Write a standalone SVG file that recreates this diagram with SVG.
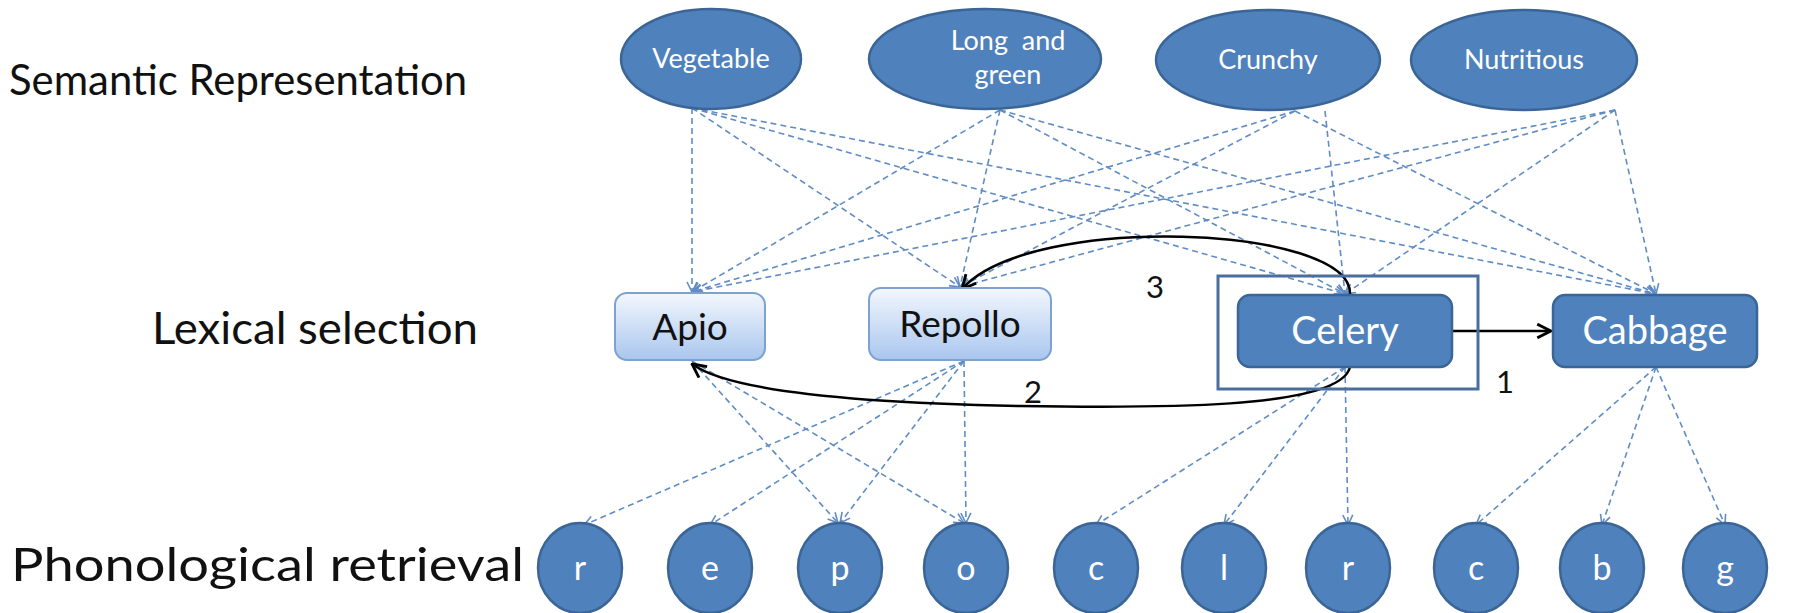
<svg xmlns="http://www.w3.org/2000/svg" width="1794" height="613" viewBox="0 0 1794 613">
  <style>
    .label { font-family: Lato, "Liberation Sans", sans-serif; fill: #111; }
    .feat { fill: #4f81bd; stroke: #3a6596; stroke-width: 2.5; }
    .feat-text { font-family: Lato, "Liberation Sans", sans-serif; font-size: 27px; fill: #fff; text-anchor: middle; }
    .lex-light { fill: url(#lightGrad); stroke: #7ea2cf; stroke-width: 2; }
    .lex-dark { fill: #4f81bd; stroke: #3a6596; stroke-width: 2.5; }
    .lex-text-dark { font-family: Lato, "Liberation Sans", sans-serif; font-size: 37px; fill: #111; text-anchor: middle; }
    .lex-text-light { font-family: Lato, "Liberation Sans", sans-serif; font-size: 38px; fill: #fff; text-anchor: middle; }
    .phon { fill: #4f81bd; stroke: #3a6596; stroke-width: 2.5; }
    .phon-text { font-family: Lato, "Liberation Sans", sans-serif; font-size: 34px; fill: #fff; text-anchor: middle; }
    .dash { fill: none; stroke: #5f8cc5; stroke-width: 1.6; stroke-dasharray: 6 4; marker-end: url(#openBlue); }
    .solid { fill: none; stroke: #000; stroke-width: 2.5; marker-end: url(#openBlack); }
    .num { font-family: Lato, "Liberation Sans", sans-serif; font-size: 31px; fill: #111; }
  </style>
  <defs>
    <linearGradient id="lightGrad" x1="0" y1="0" x2="0" y2="1">
      <stop offset="0" stop-color="#f3f7fd"/>
      <stop offset="1" stop-color="#a9c6ee"/>
    </linearGradient>
    <marker id="openBlue" viewBox="0 0 12 12" refX="11" refY="6" markerWidth="12" markerHeight="12" markerUnits="userSpaceOnUse" orient="auto">
      <path d="M1,1 L11,6 L1,11" fill="none" stroke="#5f8cc5" stroke-width="1.6"/>
    </marker>
    <marker id="openBlack" viewBox="0 0 14 14" refX="13" refY="7" markerWidth="16" markerHeight="16" markerUnits="userSpaceOnUse" orient="auto">
      <path d="M1,1 L13,7 L1,13" fill="none" stroke="#000" stroke-width="2.5"/>
    </marker>
  </defs>

  <rect width="1794" height="613" fill="#fff"/>

  <!-- row labels -->
  <text class="label" x="9" y="95" font-size="42" textLength="458" lengthAdjust="spacingAndGlyphs">Semantic Representation</text>
  <text class="label" x="152" y="344" font-size="44" textLength="326" lengthAdjust="spacingAndGlyphs">Lexical selection</text>
  <text class="label" x="11" y="581" font-size="46" textLength="513" lengthAdjust="spacingAndGlyphs">Phonological retrieval</text>

  <!-- connectors -->
  <g id="connectors">
    <!-- semantic features to lexical entries -->
    <line class="dash" x1="692" y1="108" x2="692" y2="292"/>
    <line class="dash" x1="692" y1="108" x2="960" y2="287"/>
    <line class="dash" x1="692" y1="108" x2="1345" y2="294"/>
    <line class="dash" x1="692" y1="108" x2="1656" y2="294"/>
    <line class="dash" x1="1000" y1="110" x2="692" y2="292"/>
    <line class="dash" x1="1000" y1="110" x2="960" y2="287"/>
    <line class="dash" x1="1000" y1="110" x2="1345" y2="294"/>
    <line class="dash" x1="1000" y1="110" x2="1656" y2="294"/>
    <line class="dash" x1="1295" y1="111" x2="692" y2="292"/>
    <line class="dash" x1="1295" y1="111" x2="960" y2="287"/>
    <line class="dash" x1="1325" y1="111" x2="1345" y2="294"/>
    <line class="dash" x1="1295" y1="111" x2="1656" y2="294"/>
    <line class="dash" x1="1615" y1="110" x2="692" y2="292"/>
    <line class="dash" x1="1615" y1="110" x2="960" y2="287"/>
    <line class="dash" x1="1615" y1="110" x2="1345" y2="294"/>
    <line class="dash" x1="1615" y1="110" x2="1656" y2="294"/>
    <!-- lexical entries to phonemes -->
    <line class="dash" x1="692" y1="361" x2="838" y2="523"/>
    <line class="dash" x1="692" y1="361" x2="964" y2="523"/>
    <line class="dash" x1="964" y1="361" x2="584" y2="525"/>
    <line class="dash" x1="964" y1="361" x2="710" y2="525"/>
    <line class="dash" x1="964" y1="361" x2="840" y2="523"/>
    <line class="dash" x1="964" y1="361" x2="966" y2="523"/>
    <line class="dash" x1="1345" y1="367" x2="1096" y2="525"/>
    <line class="dash" x1="1345" y1="367" x2="1224" y2="525"/>
    <line class="dash" x1="1345" y1="367" x2="1348" y2="525"/>
    <line class="dash" x1="1656" y1="367" x2="1476" y2="525"/>
    <line class="dash" x1="1656" y1="367" x2="1602" y2="525"/>
    <line class="dash" x1="1656" y1="367" x2="1725" y2="525"/>
    <!-- selection and competition arrows -->
    <line class="solid" x1="1452" y1="331" x2="1551" y2="331"/>
    <path class="solid" d="M1350,294 C1352,225 1030,212 962,289"/>
    <path class="solid" d="M1350,367 C1340,410 1150,408 1020,406 C860,403 730,392 692,364"/>
  </g>

  <!-- semantic feature nodes -->
  <g id="vegetable">
    <ellipse class="feat" cx="711" cy="59" rx="90" ry="50"/>
    <text class="feat-text" x="711" y="68">Vegetable</text>
  </g>
  <g id="long-and-green">
    <ellipse class="feat" cx="985" cy="59" rx="116" ry="50"/>
    <text class="feat-text" x="1008" y="50" xml:space="preserve">Long  and</text>
    <text class="feat-text" x="1008" y="84">green</text>
  </g>
  <g id="crunchy">
    <ellipse class="feat" cx="1268" cy="60" rx="112" ry="50"/>
    <text class="feat-text" x="1268" y="69">Crunchy</text>
  </g>
  <g id="nutritious">
    <ellipse class="feat" cx="1524" cy="60" rx="113" ry="50"/>
    <text class="feat-text" x="1524" y="69">Nutritious</text>
  </g>

  <!-- lexical nodes -->
  <g id="apio">
    <rect class="lex-light" x="615" y="293" width="150" height="67" rx="12"/>
    <text class="lex-text-dark" x="690" y="340">Apio</text>
  </g>
  <g id="repollo">
    <rect class="lex-light" x="869" y="288" width="182" height="72" rx="12"/>
    <text class="lex-text-dark" x="960" y="337">Repollo</text>
  </g>
  <g id="celery">
    <rect x="1218" y="276" width="260" height="113" fill="none" stroke="#4a6f9e" stroke-width="3"/>
    <rect class="lex-dark" x="1238" y="295" width="214" height="72" rx="12"/>
    <text class="lex-text-light" x="1345" y="344">Celery</text>
  </g>
  <g id="cabbage">
    <rect class="lex-dark" x="1553" y="295" width="204" height="72" rx="12"/>
    <text class="lex-text-light" x="1655" y="344">Cabbage</text>
  </g>

  <!-- step numbers -->
  <text class="num" x="1496" y="393">1</text>
  <text class="num" x="1024" y="403">2</text>
  <text class="num" x="1146" y="298">3</text>

  <!-- phoneme nodes -->
  <g id="ph-r1"><ellipse class="phon" cx="580" cy="568" rx="42" ry="45"/><text class="phon-text" x="580" y="580">r</text></g>
  <g id="ph-e"><ellipse class="phon" cx="710" cy="568" rx="42" ry="45"/><text class="phon-text" x="710" y="580">e</text></g>
  <g id="ph-p"><ellipse class="phon" cx="840" cy="568" rx="42" ry="45"/><text class="phon-text" x="840" y="580">p</text></g>
  <g id="ph-o"><ellipse class="phon" cx="966" cy="568" rx="42" ry="45"/><text class="phon-text" x="966" y="580">o</text></g>
  <g id="ph-c1"><ellipse class="phon" cx="1096" cy="568" rx="42" ry="45"/><text class="phon-text" x="1096" y="580">c</text></g>
  <g id="ph-l"><ellipse class="phon" cx="1224" cy="568" rx="42" ry="45"/><text class="phon-text" x="1224" y="580">l</text></g>
  <g id="ph-r2"><ellipse class="phon" cx="1348" cy="568" rx="42" ry="45"/><text class="phon-text" x="1348" y="580">r</text></g>
  <g id="ph-c2"><ellipse class="phon" cx="1476" cy="568" rx="42" ry="45"/><text class="phon-text" x="1476" y="580">c</text></g>
  <g id="ph-b"><ellipse class="phon" cx="1602" cy="568" rx="42" ry="45"/><text class="phon-text" x="1602" y="580">b</text></g>
  <g id="ph-g"><ellipse class="phon" cx="1725" cy="568" rx="42" ry="45"/><text class="phon-text" x="1725" y="580">g</text></g>
</svg>
